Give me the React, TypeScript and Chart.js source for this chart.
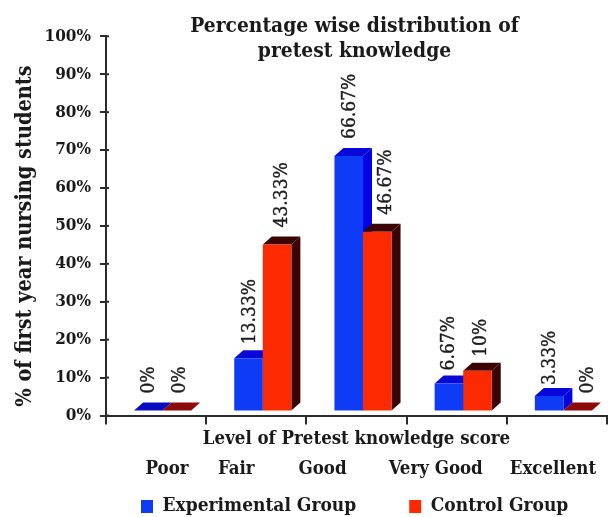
import React, { useEffect, useRef } from "react";
import { Chart, registerables } from "chart.js";

Chart.register(...registerables);

const categories = ["Poor", "Fair", "Good", "Very Good", "Excellent"];
const experimentalValues = [0, 13.33, 66.67, 6.67, 3.33];
const controlValues = [0, 43.33, 46.67, 10, 0];
const experimentalLabels = ["0%", "13.33%", "66.67%", "6.67%", "3.33%"];
const controlLabels = ["0%", "43.33%", "46.67%", "10%", "0%"];
const yTicks = [0, 10, 20, 30, 40, 50, 60, 70, 80, 90, 100];

// style and layout
const SERIF = '"DejaVu Serif Condensed", "DejaVu Serif", serif';
const FLOOR = 1.3;
const TOP_LIFT = 1.8;
const BAR_SHIFT = 6.5;
const DEPTH_X = 9;
const DEPTH_Y = 8;
const tickShift = [11, -20, -34, -21, -4];
const labelShifts = [
  [1, 2, 1, 0, 1],
  [3, 5, 9, 4, 10],
];
const labelGaps = [
  [9, 6, 9, 5, 3],
  [9, 9, 9, 6, 9],
];

const skin = [
  { front: "#0e3cf6", top: "#0808d8", side: "#0404e0", flat: "#0a0cc4" },
  { front: "#fb2a00", top: "#3a0404", side: "#3a0404", flat: "#8e0a0a" },
];

const toBar = (v: number): [number, number] => [FLOOR, v === 0 ? FLOOR : v + TOP_LIFT];

const fakeDepth = {
  id: "fakeDepth",
  afterLayout(chart: any) {
    const t = chart.titleBlock;
    if (t) {
      const h = t.bottom - t.top;
      t.top = 14;
      t.bottom = 14 + h;
      t.left -= 2;
      t.right -= 2;
    }
    const l = chart.legend;
    if (l) {
      l.options.labels.padding = 53;
      l.left = 88;
      l.right = 900;
      l.top -= 32;
      l.bottom = 517;
    }
    chart.scales.x.bottom = 517;
  },
  afterDatasetsUpdate(chart: any) {
    chart.data.datasets.forEach((_: any, i: number) => {
      chart.getDatasetMeta(i).data.forEach((bar: any) => {
        bar.x += BAR_SHIFT;
      });
    });
  },
  beforeDraw(chart: any) {
    const x = chart.scales.x;
    const items = x.getLabelItems(chart.chartArea);
    items.forEach((item: any, i: number) => {
      const tr = item.options.translation;
      item.options.translation = [x.getPixelForTick(i) + tickShift[i], tr[1]];
    });
    const { ctx } = chart;
    const y = chart.scales.y;
    ctx.save();
    ctx.strokeStyle = "#2b2b2b";
    ctx.lineWidth = 2;
    yTicks.forEach((v) => {
      const py = y.getPixelForValue(v);
      ctx.beginPath();
      ctx.moveTo(chart.chartArea.left, py);
      ctx.lineTo(chart.chartArea.left + 3, py);
      ctx.stroke();
    });
    ctx.restore();
  },
  beforeDatasetsDraw(chart: any) {
    const { ctx } = chart;
    [experimentalValues, controlValues].forEach((values, d) => {
      const s = skin[d];
      chart.getDatasetMeta(d).data.forEach((bar: any, i: number) => {
        const l = bar.x - bar.width / 2;
        const r = bar.x + bar.width / 2;
        const flat = values[i] === 0;
        ctx.fillStyle = flat ? s.flat : s.side;
        ctx.beginPath();
        ctx.moveTo(r, bar.base);
        ctx.lineTo(r + DEPTH_X, bar.base - DEPTH_Y);
        ctx.lineTo(r + DEPTH_X, bar.y - DEPTH_Y);
        ctx.lineTo(r, bar.y);
        ctx.closePath();
        ctx.fill();
        ctx.fillStyle = flat ? s.flat : s.top;
        ctx.beginPath();
        ctx.moveTo(l, bar.y);
        ctx.lineTo(l + DEPTH_X, bar.y - DEPTH_Y);
        ctx.lineTo(r + DEPTH_X, bar.y - DEPTH_Y);
        ctx.lineTo(r, bar.y);
        ctx.closePath();
        ctx.fill();
      });
    });
  },
  afterDatasetsDraw(chart: any) {
    const { ctx } = chart;
    [experimentalLabels, controlLabels].forEach((labels, d) => {
      chart.getDatasetMeta(d).data.forEach((bar: any, i: number) => {
        ctx.save();
        ctx.translate(bar.x + labelShifts[d][i], bar.y - DEPTH_Y - labelGaps[d][i]);
        ctx.rotate(-Math.PI / 2);
        ctx.font = `19px ${SERIF}`;
        ctx.fillStyle = "#1c1c1c";
        ctx.strokeStyle = "#1c1c1c";
        ctx.lineWidth = 0.4;
        ctx.textAlign = "left";
        ctx.textBaseline = "middle";
        ctx.fillText(labels[i], 0, 0);
        ctx.strokeText(labels[i], 0, 0);
        ctx.restore();
      });
    });
  },
};

export default function App() {
  const ref = useRef<HTMLCanvasElement>(null);
  useEffect(() => {
    const chart = new Chart(ref.current!, {
      type: "bar",
      data: {
        labels: categories,
        datasets: [
          {
            label: "Experimental Group",
            data: experimentalValues.map(toBar),
            backgroundColor: skin[0].front,
          },
          {
            label: "Control Group",
            data: controlValues.map(toBar),
            backgroundColor: skin[1].front,
          },
        ],
      } as any,
      plugins: [fakeDepth],
      options: {
        responsive: false,
        animation: false,
        layout: { autoPadding: false, padding: { top: -13.6, right: 1, left: 0, bottom: 0 } },
        datasets: { bar: { barPercentage: 1, categoryPercentage: 0.57, borderSkipped: false } },
        plugins: {
          tooltip: { enabled: false },
          title: {
            display: true,
            text: ["Percentage wise distribution of", "pretest knowledge"],
            fullSize: false,
            color: "#1a1a1a",
            padding: 0,
            font: { family: SERIF, size: 20.8, weight: "bold", lineHeight: 1.2 },
          },
          legend: {
            display: true,
            position: "bottom",
            align: "start",
            labels: {
              color: "#1a1a1a",
              boxWidth: 12,
              boxHeight: 13,
              padding: 12,
              font: { family: SERIF, size: 19, weight: "bold" },
            },
          },
        },
        scales: {
          x: {
            type: "category",
            afterFit: (s: any) => {
              s.height = 517 - 415.5 - (s.chart.legend ? s.chart.legend.height : 0);
              s.paddingLeft = 0;
              s.paddingRight = 0;
            },
            border: { display: true, color: "#2b2b2b", width: 2 },
            grid: { drawOnChartArea: false, drawTicks: true, tickLength: 9, color: "#2b2b2b", lineWidth: 2 },
            ticks: {
              color: "#1a1a1a",
              padding: 34,
              maxRotation: 0,
              autoSkip: false,
              font: { family: SERIF, size: 18.5, weight: "bold" },
            },
            title: {
              display: true,
              text: "Level of Pretest knowledge score",
              color: "#1a1a1a",
              padding: { top: 0, bottom: 67 },
              font: { family: SERIF, size: 18.5, weight: "bold" },
            },
          },
          y: {
            type: "linear",
            min: 0,
            max: 100,
            afterBuildTicks: (s: any) => {
              s.ticks = yTicks.map((value) => ({ value }));
            },
            afterFit: (s: any) => {
              s.width = 106;
              s.paddingTop = 0;
              s.paddingBottom = 0;
            },
            border: { display: true, color: "#2b2b2b", width: 2 },
            grid: { drawOnChartArea: false, drawTicks: true, tickLength: 6, color: "#2b2b2b", lineWidth: 2 },
            ticks: {
              color: "#1a1a1a",
              padding: 9,
              callback: (v: any) => `${v}%`,
              font: { family: SERIF, size: 17, weight: "bold" },
            },
            title: {
              display: true,
              text: "% of first year nursing students   ",
              color: "#1a1a1a",
              padding: { top: 13, bottom: 0 },
              font: { family: SERIF, size: 21.5, weight: "bold" },
            },
          },
        },
      },
    } as any);
    return () => chart.destroy();
  }, []);
  return (
    <div style={{ position: "absolute", left: 0, top: 0, width: 608, height: 517, background: "#fff" }}>
      <canvas ref={ref} width={608} height={517} style={{ display: "block" }} />
    </div>
  );
}
